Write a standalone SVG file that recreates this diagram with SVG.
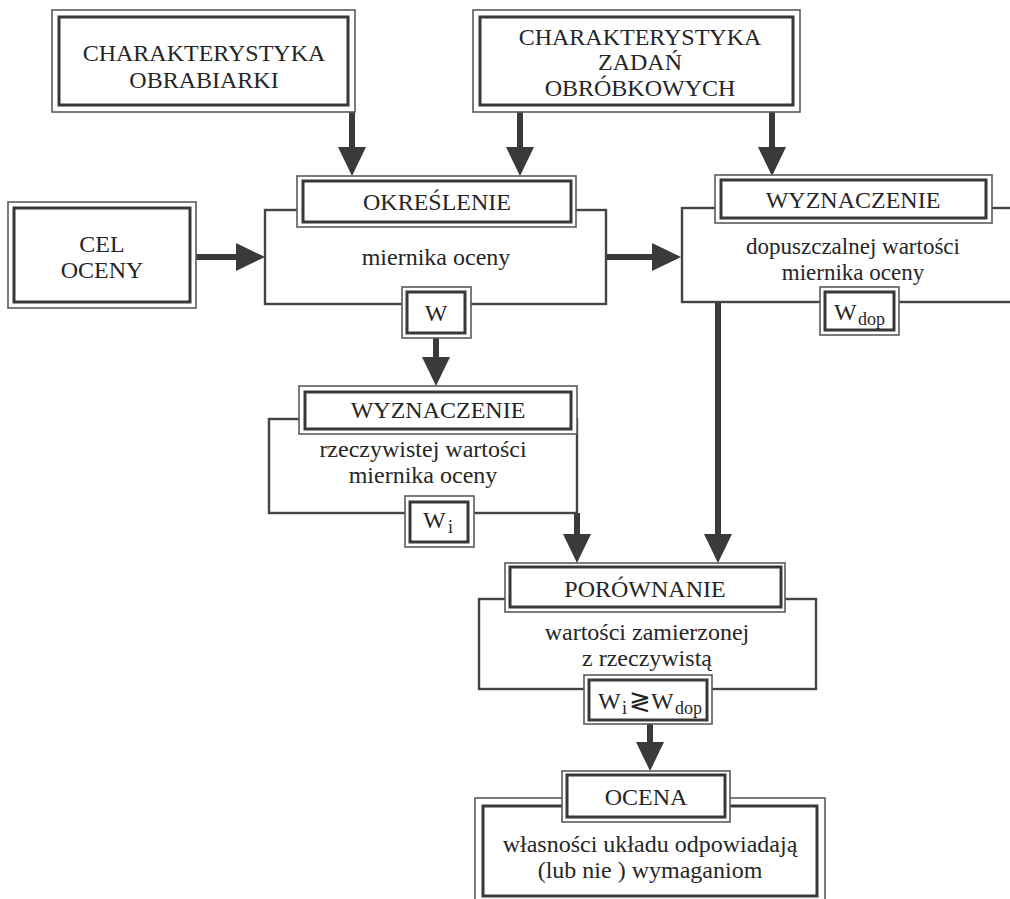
<svg xmlns="http://www.w3.org/2000/svg" width="1010" height="899" viewBox="0 0 1010 899">
<style>
text{font-family:"Liberation Serif","Times New Roman",serif;font-size:24px;fill:#262626;text-anchor:middle}
.s{font-size:18px;text-anchor:start}
.l{text-anchor:start}
.o{fill:#fff;stroke:#5a5a5a;stroke-width:1.6}
.i{fill:none;stroke:#383838;stroke-width:3}
.m{fill:#fff;stroke:#444;stroke-width:2.4}
.c{stroke:#3a3a3a;stroke-width:6;fill:none;marker-end:url(#ah)}
</style>
<defs>
<marker id="ah" markerUnits="userSpaceOnUse" viewBox="0 0 29 28" markerWidth="29" markerHeight="28" refX="1" refY="14" orient="auto">
<path d="M0,0 L29,14 L0,28 Z" fill="#3a3a3a"/>
</marker>
</defs>
<rect width="1010" height="899" fill="#fff"/>

<g id="connectors">
<line class="c" x1="352" y1="112" x2="352" y2="148"/>
<line class="c" x1="520" y1="112" x2="520" y2="148"/>
<line class="c" x1="772" y1="112" x2="772" y2="148"/>
<line class="c" x1="196" y1="257" x2="237" y2="257"/>
<line class="c" x1="606" y1="257" x2="653" y2="257"/>
<line class="c" x1="436" y1="338" x2="436" y2="358"/>
<line class="c" x1="577" y1="513" x2="577" y2="535"/>
<line class="c" x1="718" y1="302" x2="718" y2="535"/>
<line class="c" x1="650" y1="724" x2="650" y2="743"/>
</g>

<g id="char-obrabiarki">
<rect class="o" x="52" y="10" width="303" height="102"/>
<rect class="i" x="59" y="17" width="289" height="88"/>
<text x="204" y="61">CHARAKTERYSTYKA</text>
<text x="204" y="88">OBRABIARKI</text>
</g>

<g id="char-zadan">
<rect class="o" x="473" y="10" width="327" height="102"/>
<rect class="i" x="480" y="17" width="313" height="88"/>
<text x="640" y="45">CHARAKTERYSTYKA</text>
<text x="640" y="70">ZADAŃ</text>
<text x="640" y="96">OBRÓBKOWYCH</text>
</g>

<g id="cel-oceny">
<rect class="o" x="8" y="202" width="188" height="106"/>
<rect class="i" x="14" y="208" width="176" height="94"/>
<text x="102" y="252">CEL</text>
<text x="102" y="278">OCENY</text>
</g>

<g id="okreslenie">
<rect class="m" x="265" y="210" width="341" height="94"/>
<rect class="o" x="297" y="176" width="279" height="51"/>
<rect class="i" x="303" y="181" width="268" height="41"/>
<text x="437" y="210">OKREŚLENIE</text>
<text x="436" y="265">miernika oceny</text>
<rect class="o" x="402" y="287" width="69" height="51"/>
<rect class="i" x="407" y="292" width="58" height="41"/>
<text x="436" y="321">W</text>
</g>

<g id="wyznaczenie-dop">
<rect class="m" x="682" y="208" width="345" height="94"/>
<rect class="o" x="715" y="175" width="277" height="48"/>
<rect class="i" x="721" y="180" width="265" height="38"/>
<text x="853" y="208">WYZNACZENIE</text>
<text x="853" y="254" style="font-size:23px">dopuszczalnej wartości</text>
<text x="853" y="280" style="font-size:23px">miernika oceny</text>
<rect class="o" x="820" y="287" width="79" height="48"/>
<rect class="i" x="825" y="292" width="69" height="38"/>
<text class="l" x="834" y="320">W</text>
<text class="s" x="858" y="325">dop</text>
</g>

<g id="wyznaczenie-rz">
<rect class="m" x="269" y="419" width="308" height="94"/>
<rect class="o" x="299" y="386" width="278" height="48"/>
<rect class="i" x="305" y="392" width="266" height="37"/>
<text x="438" y="418">WYZNACZENIE</text>
<text x="423" y="457">rzeczywistej wartości</text>
<text x="423" y="483">miernika oceny</text>
<rect class="o" x="405" y="496" width="69" height="51"/>
<rect class="i" x="410" y="502" width="58" height="40"/>
<text class="l" x="423" y="528">W</text>
<text class="s" x="448" y="533">i</text>
</g>

<g id="porownanie">
<rect class="m" x="479" y="599" width="337" height="90"/>
<rect class="o" x="505" y="563" width="280" height="49"/>
<rect class="i" x="510" y="567" width="271" height="40"/>
<text x="645" y="597">PORÓWNANIE</text>
<text x="647" y="640">wartości zamierzonej</text>
<text x="647" y="666">z rzeczywistą</text>
<rect class="o" x="584" y="675" width="128" height="49"/>
<rect class="i" x="589" y="680" width="118" height="40"/>
<text class="l" x="598" y="709">W</text>
<text class="s" x="622" y="714">i</text>
<text class="l" x="629" y="710" style="font-family:'DejaVu Sans',sans-serif;font-weight:200;font-size:26px">≷</text>
<text class="l" x="651" y="709">W</text>
<text class="s" x="675" y="714">dop</text>
</g>

<g id="ocena">
<rect class="o" x="475" y="798" width="350" height="110"/>
<rect class="i" x="483" y="806" width="334" height="90"/>
<rect class="o" x="562" y="771" width="168" height="51"/>
<rect class="i" x="567" y="775" width="158" height="42"/>
<text x="646" y="805">OCENA</text>
<text x="650" y="852">własności układu odpowiadają</text>
<text x="650" y="878">(lub nie ) wymaganiom</text>
</g>
</svg>
